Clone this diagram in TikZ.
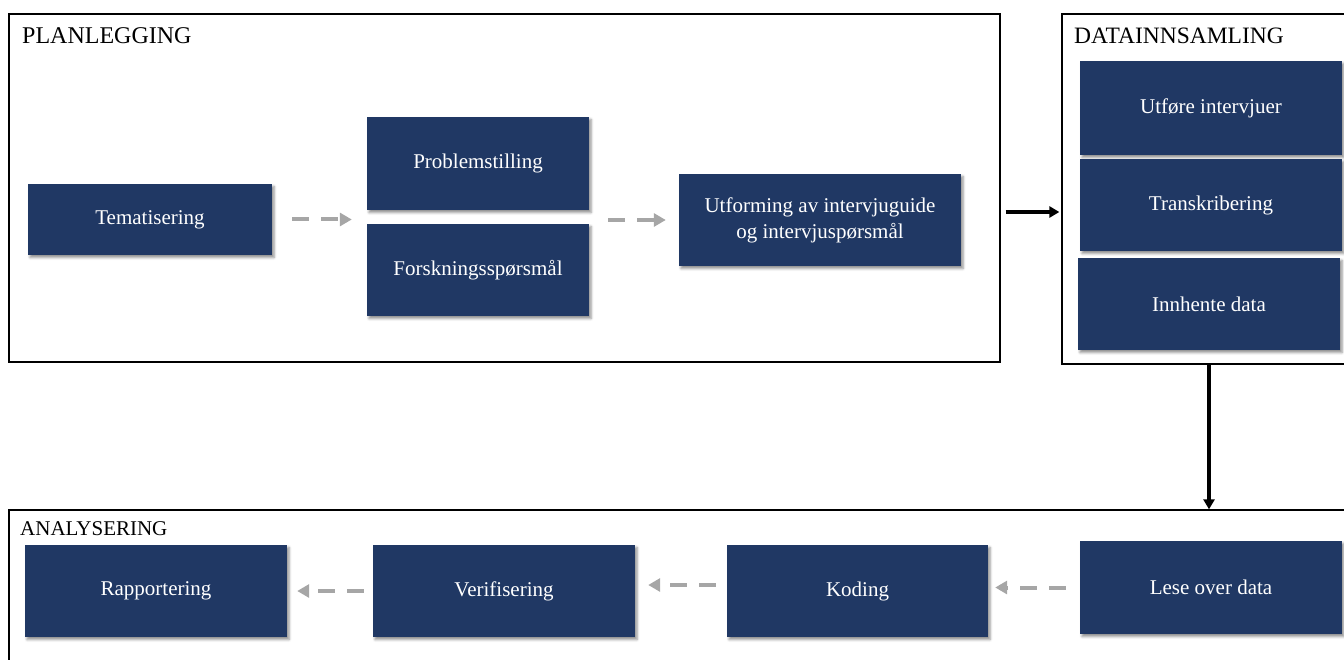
\documentclass[tikz,border=0pt]{standalone}
\usepackage{fontspec}
\setmainfont{Liberation Serif}
\usetikzlibrary{shadows.blur,arrows.meta,calc}
\definecolor{navy}{HTML}{203864}
\definecolor{arrowgray}{HTML}{A6A6A6}
\begin{document}
\begin{tikzpicture}[x=1pt,y=-1pt,
  stepbox/.style={fill=navy, text=white, font=\fontsize{21}{26}\selectfont, align=center, inner sep=0pt,
    blur shadow={shadow xshift=2pt, shadow yshift=-2.5pt, shadow blur radius=2.5pt, shadow opacity=45}},
  frame/.style={draw=black, line width=1.3pt, inner sep=0pt},
  title/.style={anchor=base west, inner sep=0pt, font=\fontsize{24}{28}\selectfont},
  flow/.style={draw=arrowgray, line width=4pt, dash pattern=on 17pt off 12pt, -{Triangle[length=12pt,width=13pt]}},
  link/.style={draw=black, line width=3.2pt, -{Triangle[length=10pt,width=11pt]}}]
\useasboundingbox (0,0) rectangle (1344,660);

% frames
\node[frame, minimum width=991pt, minimum height=348pt] (plan) at (504.5,188) {};
\node[frame, minimum width=290pt, minimum height=350pt] (data) at (1207,189) {};
\node[frame, minimum width=1343pt, minimum height=160pt] (analyse) at (680.5,590) {};

\node[title] (tplan) at (22,44) {PLANLEGGING};
\node[title, font=\fontsize{23.5}{28}\selectfont] (tdata) at (1074,44) {DATAINNSAMLING};
\node[title, font=\fontsize{21}{26}\selectfont] (tanal) at (20,535) {ANALYSERING};

% planning boxes
\node[stepbox, minimum width=244pt, minimum height=71pt] (tema) at (150,219.5) {Tematisering};
\node[stepbox, minimum width=222pt, minimum height=93pt] (prob) at (478,163.5) {Problemstilling};
\node[stepbox, minimum width=222pt, minimum height=92pt] (forsk) at (478,270) {Forskningsspørsmål};
\node[stepbox, minimum width=282pt, minimum height=92pt] (utf) at (820,220) {Utforming av intervjuguide\\og intervjuspørsmål};

% data boxes
\node[stepbox, minimum width=262pt, minimum height=94pt] (utfore) at (1211,108) {Utføre intervjuer};
\node[stepbox, minimum width=262pt, minimum height=92pt] (trans) at (1211,205) {Transkribering};
\node[stepbox, minimum width=262pt, minimum height=92pt] (innh) at (1209,304) {Innhente data};

% analysis boxes
\node[stepbox, minimum width=262pt, minimum height=92pt] (rapp) at (156,591) {Rapportering};
\node[stepbox, minimum width=262pt, minimum height=92pt] (verif) at (504,591) {Verifisering};
\node[stepbox, minimum width=261pt, minimum height=92pt] (kod) at (857.5,591) {Koding};
\node[stepbox, minimum width=262pt, minimum height=93pt] (lese) at (1211,587.5) {Lese over data};

% helper coordinates
\coordinate (pfl) at ($(prob.south west)!.5!(forsk.north west)$);
\coordinate (pfr) at ($(prob.south east)!.5!(forsk.north east)$);
\coordinate (pout) at ($(plan.east)+(0,24)$);
\coordinate (kw) at ($(kod.west)+(0,-6)$);

% dashed flow arrows
\draw[flow, shorten <=20pt, shorten >=15pt] (tema.east) -- (tema.east -| pfl);
\draw[flow, shorten <=19pt, shorten >=13pt] (pfr |- utf.west) -- (utf.west);
\draw[flow, shorten <=14pt, shorten >=7pt] (lese.west) -- (lese.west -| kod.east);
\draw[flow, shorten <=11pt, shorten >=13pt] (kw) -- (kw -| verif.east);
\draw[flow, shorten <=9pt, shorten >=10pt] (verif.west) -- (verif.west -| rapp.east);

% black links
\draw[link, shorten <=5pt, shorten >=2pt] (pout) -- (pout -| data.west);
\draw[link] (innh.south |- data.south) -- (innh.south |- analyse.north);
\end{tikzpicture}
\end{document}
